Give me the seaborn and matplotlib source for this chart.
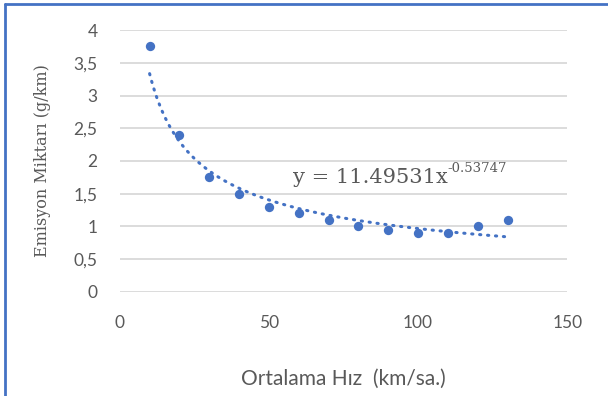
import numpy as np
import pandas as pd
import seaborn as sns
import matplotlib.pyplot as plt
from matplotlib.ticker import FuncFormatter
from matplotlib.lines import Line2D

# data
hiz = [10, 20, 30, 40, 50, 60, 70, 80, 90, 100, 110, 120, 130]
emisyon = [3.75, 2.4, 1.75, 1.5, 1.3, 1.2, 1.1, 1.0, 0.95, 0.9, 0.9, 1.0, 1.1]

# power trendline shown on the chart
katsayi = 11.49531
us = -0.53747

x_ticks = [0, 50, 100, 150]
y_ticks = [0, 0.5, 1, 1.5, 2, 2.5, 3, 3.5, 4]

blue = "#4472C4"
text_gray = "#595959"
grid_gray = "#D9D9D9"
serif = ['DejaVu Serif', 'Liberation Serif']

sns.set_theme(style="white")
plt.rcParams['font.family'] = ['Lato', 'DejaVu Sans']

df = pd.DataFrame({"hiz": hiz, "emisyon": emisyon})
x_fit = np.linspace(min(hiz), max(hiz), 200)
trend = pd.DataFrame({"hiz": x_fit, "emisyon": katsayi * x_fit ** us})

fig = plt.figure(figsize=(6.08, 3.96), dpi=100)
ax = fig.add_axes([0.197, 0.263, 0.736, 0.661])

for yt in y_ticks:
    ax.axhline(yt, color=grid_gray, lw=1.3, zorder=0)

sns.lineplot(data=trend, x="hiz", y="emisyon", ax=ax, color=blue,
             lw=2.2, linestyle=(0, (0.4, 2.2)), dash_capstyle="round", zorder=2)
sns.scatterplot(data=df, x="hiz", y="emisyon", ax=ax, color=blue,
                s=45, edgecolor=blue, linewidth=0, zorder=3)

ax.set_xlim(0, 150)
ax.set_ylim(0, 4)
ax.set_xticks(x_ticks)
ax.set_yticks(y_ticks)
ax.yaxis.set_major_formatter(FuncFormatter(lambda v, p: f"{v:g}".replace(".", ",")))
ax.tick_params(axis="both", length=0, labelsize=12.5, labelcolor=text_gray)
ax.tick_params(axis="x", pad=17)
ax.tick_params(axis="y", pad=16)
for s in ax.spines.values():
    s.set_visible(False)

ax.set_xlabel("Ortalama Hız  (km/sa.)", fontsize=15, color=text_gray, labelpad=27)
ax.set_ylabel("Emisyon Miktarı (g/km)", fontsize=11.5, color=text_gray,
              family=serif, labelpad=16)

ax.text(58, 1.66, "y = 11.49531x", fontsize=15, color=text_gray,
        family=serif, va="baseline")
ax.annotate("-0.53747", xy=(58, 1.66), xycoords="data", xytext=(111, 8),
            textcoords="offset points", fontsize=9.5, color=text_gray,
            family=serif, va="baseline")

# chart border (visible on top and left)
fig.add_artist(Line2D([0.008, 0.008], [0, 0.99], transform=fig.transFigure,
                      color=blue, lw=2))
fig.add_artist(Line2D([0.008, 1], [0.99, 0.99], transform=fig.transFigure,
                      color=blue, lw=2))

fig.savefig("out.png", dpi=100)
